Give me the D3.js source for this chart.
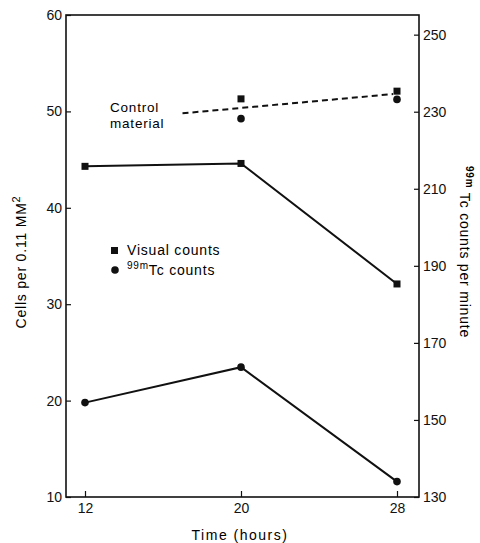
<!DOCTYPE html>
<html>
<head>
<meta charset="utf-8">
<script src="https://cdn.jsdelivr.net/npm/d3@7"></script>
<style>
  body { margin: 0; background: #fff; }
  svg { font-family: "Liberation Sans", "DejaVu Sans", sans-serif; }
  .tick text { font-size: 14px; fill: #111; }
  .tick line { stroke: #111; stroke-width: 1.2; }
</style>
</head>
<body>
<script>
// values
var hours = [12, 20, 28];
var visualCounts = [44.3, 44.6, 32.1];      // cells per 0.11 mm2 (left axis)
var tcCounts = [154.5, 163.7, 134.0];       // 99mTc counts per minute (right axis)
var controlHours = [20, 28];
var controlVisual = [51.3, 52.1];
var controlTc = [228.2, 233.2];
var controlFitHours = [17, 27.8];
var controlFitValues = [49.8, 51.8];        // dashed line, left axis units
var leftTicks = [10, 20, 30, 40, 50, 60];
var rightTicks = [130, 150, 170, 190, 210, 230, 250];

var width = 480, height = 543;
var plotLeft = 66, plotRight = 419, plotTop = 15, plotBottom = 497;

var svg = d3.select('body').append('svg')
  .attr('width', width)
  .attr('height', height);

var x = d3.scaleLinear().domain([12, 28]).range([85, 397]);
var yL = d3.scaleLinear().domain([10, 60]).range([plotBottom, plotTop]);
var yR = d3.scaleLinear().domain([130, 255.1]).range([plotBottom, plotTop]);

// frame
svg.append('rect')
  .attr('x', plotLeft).attr('y', plotTop)
  .attr('width', plotRight - plotLeft).attr('height', plotBottom - plotTop)
  .attr('fill', 'none').attr('stroke', '#111').attr('stroke-width', 1.6);

// axes, ticks pointing inward
svg.append('g')
  .attr('transform', 'translate(' + plotLeft + ',0)')
  .call(d3.axisLeft(yL).tickValues(leftTicks).tickSizeInner(-5).tickSizeOuter(0).tickPadding(4))
  .call(function (g) { g.select('.domain').remove(); });

svg.append('g')
  .attr('transform', 'translate(' + plotRight + ',0)')
  .call(d3.axisRight(yR).tickValues(rightTicks).tickSizeInner(-5).tickSizeOuter(0).tickPadding(4))
  .call(function (g) { g.select('.domain').remove(); });

svg.append('g')
  .attr('transform', 'translate(0,' + plotBottom + ')')
  .call(d3.axisBottom(x).tickValues(hours).tickSizeInner(-6).tickSizeOuter(0).tickPadding(6))
  .call(function (g) { g.select('.domain').remove(); });

// axis titles
svg.append('text')
  .attr('transform', 'translate(26,262) rotate(-90)')
  .attr('text-anchor', 'middle')
  .attr('font-size', 14)
  .attr('letter-spacing', 0.8)
  .text('Cells per 0.11 MM')
  .append('tspan').attr('dy', -6).attr('font-size', 11).text('2');

var rt = svg.append('text')
  .attr('transform', 'translate(460,252) rotate(90)')
  .attr('text-anchor', 'middle')
  .attr('font-size', 14)
  .attr('letter-spacing', 0.8);
rt.append('tspan').attr('dy', -6).attr('font-size', 10).attr('font-weight', 'bold').text('99m');
rt.append('tspan').attr('dy', 6).text(' Tc counts per minute');

svg.append('text')
  .attr('x', 240).attr('y', 540)
  .attr('text-anchor', 'middle')
  .attr('font-size', 14)
  .attr('letter-spacing', 1.5)
  .text('Time  (hours)');

// series lines
var lineL = d3.line().x(function (d) { return x(d[0]); }).y(function (d) { return yL(d[1]); });
var lineR = d3.line().x(function (d) { return x(d[0]); }).y(function (d) { return yR(d[1]); });

svg.append('path')
  .attr('d', lineL(d3.zip(hours, visualCounts)))
  .attr('fill', 'none').attr('stroke', '#111').attr('stroke-width', 2);

svg.append('path')
  .attr('d', lineR(d3.zip(hours, tcCounts)))
  .attr('fill', 'none').attr('stroke', '#111').attr('stroke-width', 2);

svg.append('path')
  .attr('d', lineL(d3.zip(controlFitHours, controlFitValues)))
  .attr('fill', 'none').attr('stroke', '#111').attr('stroke-width', 2)
  .attr('stroke-dasharray', '6,4');

// markers
var sq = 7;
function squares(xs, ys) {
  svg.append('g').selectAll('rect')
    .data(d3.zip(xs, ys))
    .join('rect')
    .attr('x', function (d) { return x(d[0]) - sq / 2; })
    .attr('y', function (d) { return yL(d[1]) - sq / 2; })
    .attr('width', sq).attr('height', sq)
    .attr('fill', '#111');
}
function circles(xs, ys) {
  svg.append('g').selectAll('circle')
    .data(d3.zip(xs, ys))
    .join('circle')
    .attr('cx', function (d) { return x(d[0]); })
    .attr('cy', function (d) { return yR(d[1]); })
    .attr('r', 3.8)
    .attr('fill', '#111');
}
squares(hours, visualCounts);
squares(controlHours, controlVisual);
circles(hours, tcCounts);
circles(controlHours, controlTc);

// control label
svg.append('text').attr('x', 110).attr('y', 112).attr('font-size', 13.5).attr('letter-spacing', 0.8).text('Control');
svg.append('text').attr('x', 110).attr('y', 128).attr('font-size', 13.5).attr('letter-spacing', 0.8).text('material');

// legend
svg.append('rect').attr('x', 111).attr('y', 247).attr('width', sq).attr('height', sq).attr('fill', '#111');
svg.append('text').attr('x', 127).attr('y', 255).attr('font-size', 14).attr('letter-spacing', 0.8).text('Visual counts');
svg.append('circle').attr('cx', 115).attr('cy', 270).attr('r', 3.8).attr('fill', '#111');
var lg = svg.append('text').attr('x', 127).attr('y', 275).attr('font-size', 14).attr('letter-spacing', 0.8);
lg.append('tspan').attr('dy', -6).attr('font-size', 10).text('99m');
lg.append('tspan').attr('dy', 6).text('Tc counts');
</script>
</body>
</html>
